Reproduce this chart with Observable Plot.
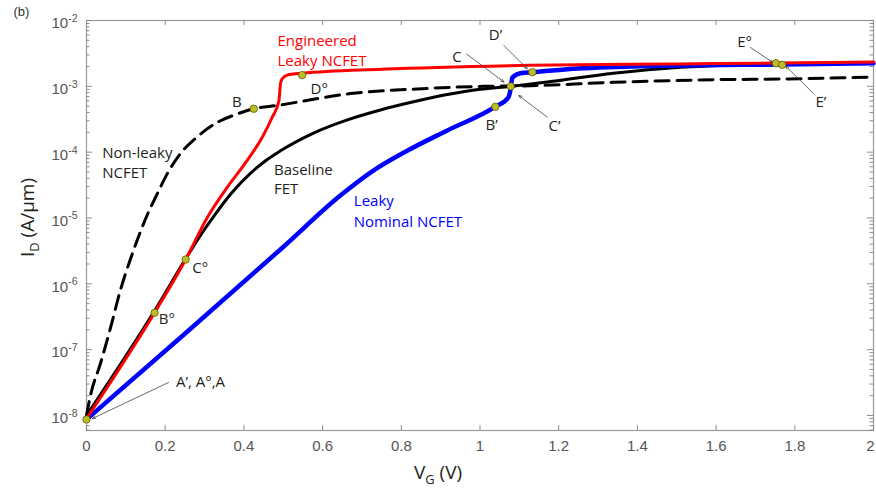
<!DOCTYPE html>
<html><head><meta charset="utf-8">
<script src="https://cdn.jsdelivr.net/npm/d3@7"></script>
<script src="https://cdn.jsdelivr.net/npm/@observablehq/plot@0.6"></script>
<style>body{margin:0;background:#fff}</style>
</head><body><div id="chart"></div>
<script>
// Engineered Leaky NCFET (red)
const vRed = [0, 0.173, 0.252, 0.307, 0.358, 0.408, 0.447, 0.472, 0.489, 0.493, 0.497, 0.510, 0.548, 0.75, 1.128, 1.5, 1.752, 2.0];
const iRed = [8.91e-9, 3.63e-7, 2.34e-6, 1.02e-5, 2.95e-5, 7.41e-5, 1.70e-4, 3.39e-4, 6.03e-4, 1.10e-3, 1.29e-3, 1.48e-3, 1.58e-3, 1.82e-3, 2.09e-3, 2.19e-3, 2.26e-3, 2.34e-3];
// Baseline FET (black solid)
const vBase = [0, 0.173, 0.252, 0.290, 0.323, 0.366, 0.417, 0.455, 0.493, 0.577, 0.663, 0.747, 0.831, 0.917, 1.001, 1.078, 1.171, 1.339, 1.51, 1.68, 1.764, 2.0];
const iBase = [1.00e-8, 3.89e-7, 2.40e-6, 5.50e-6, 1.05e-5, 2.29e-5, 4.79e-5, 7.41e-5, 1.05e-4, 1.95e-4, 3.09e-4, 4.37e-4, 5.82e-4, 7.50e-4, 9.02e-4, 1.00e-3, 1.16e-3, 1.58e-3, 1.95e-3, 2.14e-3, 2.21e-3, 2.24e-3];
// Leaky Nominal NCFET (blue)
const vBlue = [0, 0.25, 0.5, 0.645, 0.729, 0.815, 0.917, 1.039, 1.072, 1.078, 1.082, 1.103, 1.133, 1.222, 1.39, 1.56, 1.768, 2.0];
const iBlue = [8.71e-9, 1.74e-7, 3.63e-6, 2.19e-5, 5.25e-5, 1.05e-4, 2.14e-4, 4.90e-4, 6.76e-4, 9.33e-4, 1.35e-3, 1.58e-3, 1.64e-3, 1.82e-3, 2.00e-3, 2.09e-3, 2.14e-3, 2.24e-3];
// Non-leaky NCFET (black dashed)
const vNL = [0, 0.010, 0.036, 0.061, 0.086, 0.119, 0.154, 0.180, 0.205, 0.239, 0.281, 0.332, 0.383, 0.425, 0.485, 0.671, 0.840, 1.009, 1.128, 1.339, 1.593, 1.764, 2.0];
const iNL = [1.00e-8, 2.00e-8, 6.31e-8, 2.14e-7, 7.94e-7, 3.16e-6, 1.10e-5, 2.34e-5, 4.68e-5, 9.55e-5, 1.70e-4, 2.82e-4, 3.80e-4, 4.57e-4, 5.13e-4, 7.76e-4, 9.12e-4, 1.00e-3, 1.02e-3, 1.15e-3, 1.26e-3, 1.29e-3, 1.38e-3];

// Operating-point markers
const markV = [0, 0.425, 0.173, 0.252, 0.548, 1.078, 1.039, 1.133, 1.752, 1.768];
const markI = [8.7e-9, 4.57e-4, 3.63e-7, 2.34e-6, 1.48e-3, 1.00e-3, 4.90e-4, 1.64e-3, 2.24e-3, 2.12e-3];

// Annotations
const annoText = ["Engineered", "Leaky NCFET", "D°", "B", "Non-leaky", "NCFET", "Baseline", "FET", "Leaky", "Nominal NCFET", "C°", "B°", "A’, A°,A", "C", "D’", "B’", "C’", "E°", "E’"];
const annoV = [0.4854, 0.4854, 0.5693, 0.3698, 0.0399, 0.0399, 0.4765, 0.4765, 0.6793, 0.6793, 0.2686, 0.1837, 0.2274, 0.9293, 1.0224, 1.0140, 1.1741, 1.6536, 1.8526];
const annoI = [4.03e-3, 2.07e-3, 7.78e-4, 4.85e-4, 8.02e-5, 3.98e-5, 4.42e-5, 2.31e-5, 1.50e-5, 7.17e-6, 1.46e-6, 2.49e-7, 2.66e-8, 2.34e-3, 4.97e-3, 2.17e-4, 2.13e-4, 3.96e-3, 4.85e-4];
const annoColor = ["#ff0000", "#ff0000", "#231f20", "#231f20", "#231f20", "#231f20", "#231f20", "#231f20", "#0000ff", "#0000ff", "#231f20", "#231f20", "#231f20", "#231f20", "#231f20", "#231f20", "#231f20", "#231f20", "#231f20"];

// Arrows (from label to point)
const arrowV1 = [0.2084, 0.9657, 1.0605, 1.1708, 1.6874, 1.8483];
const arrowI1 = [3.17e-8, 3.10e-3, 4.17e-3, 3.40e-4, 3.89e-3, 7.71e-4];
const arrowV2 = [0.0152, 1.061, 1.120, 1.0986, 1.7446, 1.7764];
const arrowI2 = [8.99e-9, 1.16e-3, 1.85e-3, 7.26e-4, 2.30e-3, 2.04e-3];

// Ticks
const xTicks = [0, 0.2, 0.4, 0.6, 0.8, 1, 1.2, 1.4, 1.6, 1.8, 2];
const yMajor = [1e-8, 1e-7, 1e-6, 1e-5, 1e-4, 1e-3, 1e-2];
const yMinor = [];
for (let n = -9; n <= -3; n++) for (let k = 2; k <= 9; k++) { const v = k * Math.pow(10, n); if (v > 5.91e-9 && v < 1e-2) yMinor.push(v); }

const W = 876, H = 489, mL = 86, mR = 3, mT = 20, mB = 59;
const fw = W - mL - mR, fh = H - mT - mB;

const toRows = (vs, is) => vs.map((v, k) => ({v, i: is[k]}));
const annos = annoText.map((t, k) => ({t, v: annoV[k], i: annoI[k], c: annoColor[k]}));
const arrows = arrowV1.map((v, k) => ({v1: v, i1: arrowI1[k], v2: arrowV2[k], i2: arrowI2[k]}));
const marks = toRows(markV, markI);

const tickCol = "#8c8c8c";
const chart = Plot.plot({
  width: W, height: H,
  marginLeft: mL, marginRight: mR, marginTop: mT, marginBottom: mB,
  x: {domain: [0, 2]},
  y: {type: "log", domain: [5.91e-9, 1e-2]},
  style: {fontFamily: "Open Sans", background: "white", color: "#231f20"},
  marks: [
    Plot.frame({stroke: "#9a9a9a", strokeWidth: 1.2}),
    Plot.tickY(yMajor, {y: d => d, stroke: tickCol, insetRight: fw - 6}),
    Plot.tickY(yMajor, {y: d => d, stroke: tickCol, insetLeft: fw - 6}),
    Plot.tickY(yMinor, {y: d => d, stroke: tickCol, insetRight: fw - 3.5}),
    Plot.tickY(yMinor, {y: d => d, stroke: tickCol, insetLeft: fw - 3.5}),
    Plot.tickX(xTicks, {x: d => d, stroke: tickCol, insetTop: fh - 5}),
    Plot.tickX(xTicks, {x: d => d, stroke: tickCol, insetBottom: fh - 5}),
    Plot.axisY({ticks: yMajor, tickSize: 0, tickPadding: 9, dy: 3, fontSize: 15, fontFamily: "Liberation Sans", fill: "#555", label: null,
      tickFormat: d => "10^{" + Math.round(Math.log10(d)) + "}"}),
    Plot.axisX({ticks: xTicks, tickSize: 0, tickPadding: 10, fontSize: 15, fontFamily: "Liberation Sans", fill: "#555", label: null,
      tickFormat: d => String(d)}),
    Plot.line(toRows(vNL, iNL), {x: "v", y: "i", stroke: "#000", strokeWidth: 3, strokeDasharray: "14,8", curve: "monotone-x"}),
    Plot.line(toRows(vBase, iBase), {x: "v", y: "i", stroke: "#000", strokeWidth: 3, curve: "monotone-x"}),
    Plot.line(toRows(vBlue, iBlue), {x: "v", y: "i", stroke: "#0000ff", strokeWidth: 4.5, curve: "monotone-x"}),
    Plot.line(toRows(vRed, iRed), {x: "v", y: "i", stroke: "#ff0000", strokeWidth: 3, curve: "monotone-x"}),
    Plot.arrow(arrows, {x1: "v1", y1: "i1", x2: "v2", y2: "i2", stroke: "#444", strokeWidth: 0.8, headLength: 6, headAngle: 45}),
    Plot.dot(marks, {x: "v", y: "i", r: 3.7, fill: "#bdbd2a", stroke: "#5c5c00", strokeWidth: 0.8}),
    Plot.text(annos, {x: "v", y: "i", text: "t", fill: "c", textAnchor: "start", lineAnchor: "bottom", fontSize: 15}),
    Plot.text(["I_{D} (A/μm)"], {frameAnchor: "left", rotate: -90, dx: -53, dy: -8, lineAnchor: "bottom", textAnchor: "middle", fontSize: 19, fill: "#231f20"}),
    Plot.text(["V_{G} (V)"], {frameAnchor: "bottom", dx: -42, dy: 48, lineAnchor: "bottom", textAnchor: "middle", fontSize: 19, fill: "#231f20"}),
    Plot.text(["(b)"], {frameAnchor: "top-left", dx: -73, dy: -5, lineAnchor: "bottom", textAnchor: "start", fontSize: 13, fontFamily: "Liberation Sans", fill: "#333"})
  ]
});
document.getElementById("chart").appendChild(chart);

// Rich text: ^{...} superscript, _{...} subscript
const NS = "http://www.w3.org/2000/svg";
chart.querySelectorAll("text").forEach(el => {
  const s = el.textContent;
  if (!/[\^_]\{/.test(s)) return;
  const fs = parseFloat(getComputedStyle(el).fontSize) || 15;
  el.textContent = "";
  let cur = 0, last = 0, m;
  const re = /([\^_])\{([^}]*)\}/g;
  const add = (txt, shift, size) => {
    const t = document.createElementNS(NS, "tspan");
    t.textContent = txt;
    if (shift !== cur) t.setAttribute("dy", (shift - cur).toFixed(2));
    if (size) t.setAttribute("font-size", size.toFixed(1));
    cur = shift;
    el.appendChild(t);
  };
  while ((m = re.exec(s))) {
    if (m.index > last) add(s.slice(last, m.index), 0);
    if (m[1] === "^") add(m[2], -0.42 * fs, 0.7 * fs);
    else add(m[2], 0.3 * fs, 0.68 * fs);
    last = re.lastIndex;
  }
  if (last < s.length) add(s.slice(last), 0);
});
// keep the last x tick label ("2") inside the picture, as in the reference
const xLabels = chart.querySelectorAll('[aria-label="x-axis tick label"] text');
if (xLabels.length) { const lastLab = xLabels[xLabels.length - 1]; lastLab.setAttribute("dx", "-3"); }
</script></body></html>
